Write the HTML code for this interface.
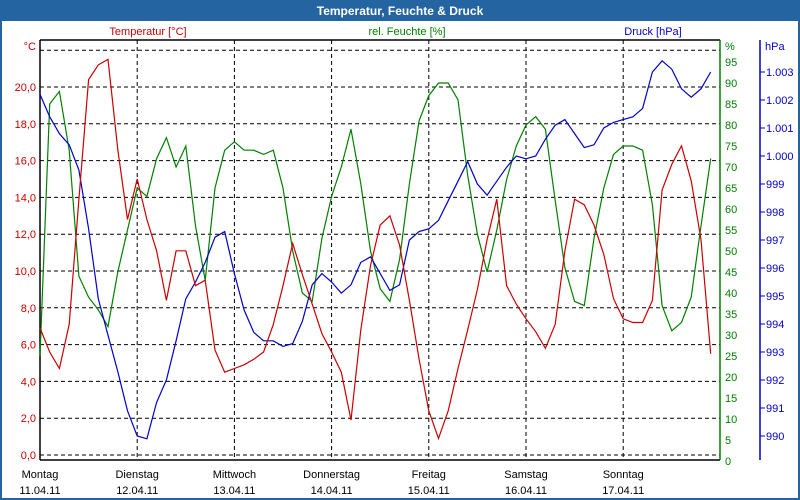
<!DOCTYPE html>
<html><head><meta charset="utf-8"><style>
body{margin:0;background:#fff;}
svg{display:block;font-family:"Liberation Sans",sans-serif;}
</style></head><body>
<svg id="chart" width="800" height="500">
<rect x="0" y="0" width="800" height="500" fill="#2464a0"/>
<rect x="2" y="21" width="796" height="477" fill="#fff"/>
<text x="400" y="15" text-anchor="middle" fill="#fff" font-weight="bold" font-size="12">Temperatur, Feuchte &amp; Druck</text>
<text x="148" y="35" text-anchor="middle" fill="#cc0000" font-size="11">Temperatur [°C]</text>
<text x="407" y="35" text-anchor="middle" fill="#008000" font-size="11">rel. Feuchte [%]</text>
<text x="653" y="35" text-anchor="middle" fill="#0000cc" font-size="11">Druck [hPa]</text>
<text x="36" y="50" text-anchor="end" fill="#cc0000" font-size="11">°C</text>
<text x="725" y="50" fill="#008000" font-size="11">%</text>
<text x="765" y="50" fill="#0000cc" font-size="11">hPa</text>
<g id="grid"></g><g id="axes"></g><g id="series"></g>
</svg>
<script>
const tempVals=[6.9,5.6,4.7,7.1,13.9,20.4,21.2,21.5,16.6,12.8,15.0,12.8,11.1,8.4,11.1,11.1,9.2,9.5,5.7,4.5,4.7,4.9,5.2,5.6,7.1,9.2,11.5,9.8,8.2,6.6,5.6,4.5,1.9,6.8,10.3,12.5,13.0,11.4,8.4,5.2,2.4,0.9,2.4,4.7,6.8,9.0,11.7,13.9,9.2,8.2,7.4,6.7,5.8,7.1,11.1,13.9,13.6,12.5,10.9,8.5,7.4,7.2,7.2,8.4,14.4,15.8,16.8,14.9,11.7,5.5];
const humVals=[25,85,88,74,44,39,36,32,45,55,65,63,72,77,70,75,56,43,65,74,76,74,74,73,74,65,50,40,38,53,63,70,79,66,50,41,38,48,66,81,87,90,90,86,68,54,45,55,67,75,80,82,79,62,46,38,37,53,65,73,75,75,74,61,37,31,33,39,56,72];
const pressVals=[1002.2,1001.4,1000.8,1000.4,999.5,997.4,994.9,993.6,992.3,990.9,990.0,989.9,991.2,992.0,993.4,994.9,995.5,996.2,997.1,997.3,995.8,994.5,993.7,993.4,993.4,993.2,993.3,994.1,995.4,995.8,995.5,995.1,995.4,996.2,996.4,995.8,995.2,995.4,997.0,997.3,997.4,997.7,998.4,999.1,999.8,999.0,998.6,999.1,999.6,1000.0,999.9,1000.0,1000.6,1001.1,1001.3,1000.8,1000.3,1000.4,1001.0,1001.2,1001.3,1001.4,1001.7,1003.0,1003.4,1003.1,1002.4,1002.1,1002.4,1003.0];
const hourStep=2.4;
const tempTicks=[0,2,4,6,8,10,12,14,16,18,20,22];
const humTicks=[0,5,10,15,20,25,30,35,40,45,50,55,60,65,70,75,80,85,90,95];
const pressTicks=[990,991,992,993,994,995,996,997,998,999,1000,1001,1002,1003];
const dayNames=["Montag","Dienstag","Mittwoch","Donnerstag","Freitag","Samstag","Sonntag"];
const dayDates=["11.04.11","12.04.11","13.04.11","14.04.11","15.04.11","16.04.11","17.04.11"];

const NS="http://www.w3.org/2000/svg";
const X=h=>40+h*97.2/24;
const YT=v=>455-v*18.4;
const YH=v=>461-v*4.2;
const YP=v=>436-(v-990)*28;
function mk(tag,attrs,parent,text){const e=document.createElementNS(NS,tag);for(const k in attrs)e.setAttribute(k,attrs[k]);if(text!==undefined)e.textContent=text;parent.appendChild(e);return e;}
const grid=document.getElementById('grid'),axes=document.getElementById('axes'),series=document.getElementById('series');
tempTicks.forEach(v=>{
  const l=mk('line',{x1:40,x2:720,y1:YT(v),y2:YT(v),stroke:'#000','stroke-dasharray':'4,3','stroke-width':1},grid);
  
  
  if(v<22){
    const t=mk('text',{x:36,y:YT(v)+4,'text-anchor':'end',fill:'#cc0000','font-size':11},axes,v.toFixed(1).replace('.',','));
    
    
  }
});
dayNames.forEach((d,i)=>{
  const x=X(i*24);
  if(i>0){const l=mk('line',{x1:x,x2:x,y1:40,y2:460,stroke:'#000','stroke-dasharray':'4,3'},grid);
  
  }
  const t1=mk('text',{x:x,y:478,'text-anchor':'middle',fill:'#000','font-size':11},axes,d);
  
  
  const t2=mk('text',{x:x,y:494,'text-anchor':'middle',fill:'#000','font-size':11},axes,dayDates[i]);
  
  
});
humTicks.forEach(v=>{
  const t=mk('text',{x:725,y:YH(v)+4,fill:'#008000','font-size':11},axes,String(v));
  
  
});
pressTicks.forEach(v=>{
  const tk=mk('line',{x1:760,x2:765,y1:YP(v),y2:YP(v),stroke:'#0000cc'},axes);
  
  
  const s=v>=1000?'1.'+String(v-1000).padStart(3,'0'):String(v);
  const t=mk('text',{x:766,y:YP(v)+4,fill:'#0000cc','font-size':11},axes,s);
  
  
});
const ax=[[40,40,40,460,'#000','temperature-axis'],[40,720,460,460,'#000','time-axis'],[40,720,40,40,'#000','plot-top-border'],[720,720,40,460,'#008000','humidity-axis'],[760,760,40,460,'#0000cc','pressure-axis']];
ax.forEach(a=>{const l=mk('line',{x1:a[0],x2:a[1],y1:a[2],y2:a[3],stroke:a[4],'stroke-width':1.5},axes);
  
  });
function line(vals,yf,color,name){
  const d=vals.map((v,i)=>(i?'L':'M')+X(i*hourStep).toFixed(1)+','+yf(v).toFixed(1)).join('');
  const p=mk('path',{d:d,fill:'none',stroke:color,'stroke-width':1.2},series);
  
  
}
line(humVals,YH,'#008000','humidity-line');
line(pressVals,YP,'#0000cc','pressure-line');
line(tempVals,YT,'#cc0000','temperature-line');
</script>
</body></html>
